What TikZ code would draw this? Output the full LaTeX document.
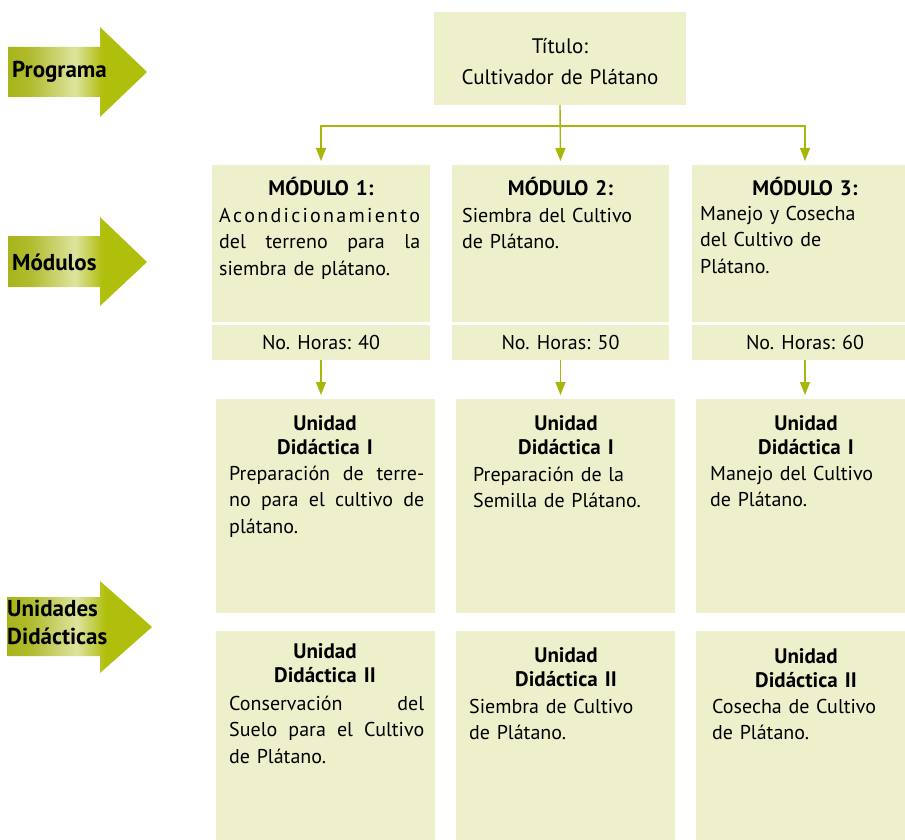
\documentclass[tikz,border=0pt]{standalone}
\usepackage{fontspec}
\setmainfont{PT Sans}
\usetikzlibrary{arrows.meta}
\definecolor{boxfill}{HTML}{EEF0CC}
\definecolor{olive}{HTML}{A8B60A}
\definecolor{olvdark}{HTML}{A8B41A}
\definecolor{olvlight}{HTML}{DDE49E}
\definecolor{olvhead}{HTML}{B0BE0C}
\pgfdeclarehorizontalshading{arrowshade}{100bp}{color(0bp)=(olvdark); color(25bp)=(olvdark); color(33bp)=(olvdark!85!olvlight); color(49bp)=(olvlight); color(59bp)=(olvhead); color(75bp)=(olvhead); color(100bp)=(olvhead)}
\newcommand\mybox[5]{\node[box,minimum width={(#4-#2)*1pt},minimum height={(#5-#3)*1pt}] (#1) at ({(#2+#4)/2},{(#3+#5)/2}) {};}
\newcommand\jl[1]{\makebox[\linewidth][s]{\spaceskip=.3333em plus 1fil minus .1em\relax #1}}
\begin{document}
\begin{tikzpicture}[x=1pt,y=-1pt,
 box/.style={fill=boxfill, draw=none, inner sep=0pt, outer sep=0pt},
 conn/.style={draw=olive, line width=1.4pt, -{Triangle[width=10pt,length=13pt]}, shorten >=4pt},
 hdr/.style={font=\fontsize{21}{24.5}\selectfont\bfseries, inner sep=0pt, anchor=base, align=center, text width=210pt},
 body/.style={font=\fontsize{20}{26.5}\selectfont, inner sep=0pt, anchor=base west, text width=#1, execute at begin node={\raggedright}},
 body/.default=205pt,
 hrs/.style={font=\fontsize{20}{22}\selectfont, inner sep=0pt},
 lbl/.style={font=\fontsize{23}{28}\selectfont\bfseries, inner sep=0pt, anchor=west, align=left},
 arrowshape/.style={shading=arrowshade}]
\useasboundingbox (0,0) rectangle (905,840);
% left arrows
\shade[arrowshape] (8,47) -- (100,47) -- (100,27) -- (147,72) -- (100,117) -- (100,97) -- (8,97) -- cycle;
\node[lbl] (lprog) at (12,72) {Programa};
\shade[arrowshape] (8,236) -- (100,236) -- (100,217) -- (147,262) -- (100,306) -- (100,287) -- (8,287) -- cycle;
\node[lbl] (lmod) at (12,262) {Módulos};
\shade[arrowshape] (7,597) -- (100,597) -- (100,581) -- (152,627) -- (100,673) -- (100,656) -- (7,656) -- cycle;
\node[lbl, text width=130pt] (lud) at (7,622) {Unidades\\Didácticas};
% boxes
\mybox{title}{434}{12}{686}{105}
\mybox{m1}{212}{165}{430}{322}
\mybox{h1}{212}{325}{430}{360}
\mybox{m2}{452}{165}{669}{322}
\mybox{h2}{452}{325}{669}{360}
\mybox{m3}{692}{165}{918}{322}
\mybox{h3}{692}{325}{918}{360}
\mybox{u1}{216}{399}{435}{613}
\mybox{v1}{216}{631}{435}{842}
\mybox{u2}{456}{399}{675}{613}
\mybox{v2}{456}{631}{675}{842}
\mybox{u3}{696}{399}{918}{613}
\mybox{v3}{696}{631}{918}{842}
% title text
\node[font=\fontsize{21}{31}\selectfont, align=center, text width=245pt, inner sep=0pt] (tt) at (560,62) {Título:\\Cultivador de Plátano};
% connectors
\coordinate (hb) at (560,126);
\draw[conn] (title.south) -- (m2.north);
\draw[conn] (hb) -| (m1.north);
\draw[conn] (hb) -| (m3.north);
\draw[conn] (h1.south) -- (h1.south |- u1.north);
\draw[conn] (h2.south) -- (h2.south |- u2.north);
\draw[conn] (h3.south) -- (h3.south |- u3.north);
% module texts
\node[hdr] (m1h) at (321,195) {MÓDULO 1:};
\node[body=201pt] (m1b) at (219,222) {\jl{A\hfill c\hfill o\hfill n\hfill d\hfill i\hfill c\hfill i\hfill o\hfill n\hfill a\hfill m\hfill i\hfill e\hfill n\hfill t\hfill o}\\\jl{del terreno para la}\\siembra de plátano.};
\node[hdr] (m2h) at (560.5,195) {MÓDULO 2:};
\node[body] (m2b) at (462,222) {Siembra del Cultivo\\de Plátano.};
\node[hdr] (m3h) at (805,195) {MÓDULO 3:};
\node[body] (m3b) at (700,220) {Manejo y Cosecha\\del Cultivo de\\Plátano.};
% hours
\node[hrs] (h1t) at (h1.center) {No. Horas: 40};
\node[hrs] (h2t) at (h2.center) {No. Horas: 50};
\node[hrs] (h3t) at (h3.center) {No. Horas: 60};
% unidad I
\node[hdr] (u1h) at (325,430) {Unidad\\Didáctica I};
\node[body=195pt] (u1b) at (229,480) {\jl{Preparación de terre-}\\\jl{no para el cultivo de}\\plátano.};
\node[hdr] (u2h) at (566,430) {Unidad\\Didáctica I};
\node[body] (u2b) at (473,481) {Preparación de la\\Semilla de Plátano.};
\node[hdr] (u3h) at (806,430) {Unidad\\Didáctica I};
\node[body] (u3b) at (710,480) {Manejo del Cultivo\\de Plátano.};
% unidad II
\node[hdr] (v1h) at (325,658) {Unidad\\Didáctica II};
\node[body=195pt] (v1b) at (229,710) {\jl{Conservación del}\\\jl{Suelo para el Cultivo}\\de Plátano.};
\node[hdr] (v2h) at (566,662) {Unidad\\Didáctica II};
\node[body] (v2b) at (469,713) {Siembra de Cultivo\\de Plátano.};
\node[hdr] (v3h) at (806,663) {Unidad\\Didáctica II};
\node[body] (v3b) at (712,713) {Cosecha de Cultivo\\de Plátano.};
\end{tikzpicture}
\end{document}
